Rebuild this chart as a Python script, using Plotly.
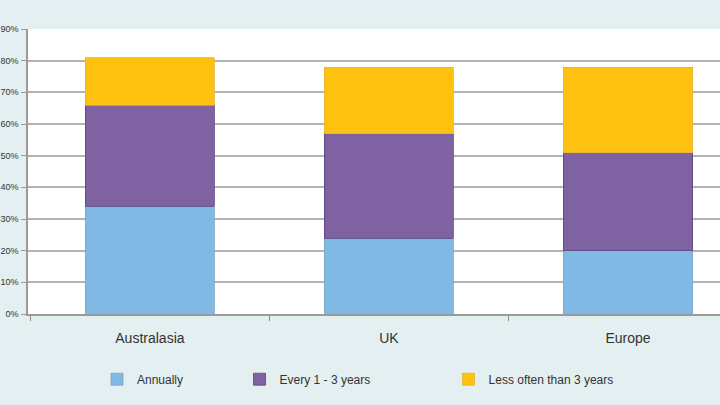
import plotly.graph_objects as go

categories = ["Australasia", "UK", "Europe"]
series_names = ["Annually", "Every 1 - 3 years", "Less often than 3 years"]
annually = [34, 24, 20]
between_1_3 = [32, 33, 31]
over_3 = [15, 21, 27]
y_ticks = [0, 10, 20, 30, 40, 50, 60, 70, 80, 90]
y_tick_labels = [f"{v}%" for v in y_ticks]

colors = ["#80b9e3", "#7f62a1", "#ffc10f"]
edge = ["#7aa6c8", "#5a4780", "#e6b33a"]
legend_ids = ["legend", "legend2", "legend3"]
legend_x = [0.0997, 0.3057, 0.6077]

fig = go.Figure()
for name, vals, c, e, lg in zip(series_names, [annually, between_1_3, over_3], colors, edge, legend_ids):
    fig.add_trace(go.Bar(
        x=categories, y=vals, name=name, width=0.54, legend=lg,
        marker=dict(color=c, line=dict(color=e, width=0.8)),
    ))

legend_style = dict(
    orientation="h", xanchor="left", y=-0.178, yanchor="top",
    font=dict(size=12, color="#333333"), bgcolor="rgba(0,0,0,0)",
)
fig.update_layout(
    barmode="stack",
    width=720, height=405,
    paper_bgcolor="#e4eff1",
    plot_bgcolor="#ffffff",
    margin=dict(l=28, r=0, t=29, b=91),
    font=dict(family="Arial, Liberation Sans, sans-serif", color="#333333", size=12),
    showlegend=True,
    legend=dict(x=legend_x[0], **legend_style),
    legend2=dict(x=legend_x[1], **legend_style),
    legend3=dict(x=legend_x[2], **legend_style),
)
fig.update_xaxes(
    range=[-0.51, 2.385], showline=True, linecolor="#9a9a9a", linewidth=1.5,
    ticks="outside", tickson="boundaries", ticklen=5, tickcolor="#8a8a8a",
    showgrid=False, ticklabelstandoff=10, tickfont=dict(size=14, color="#333333"),
)
fig.update_yaxes(
    range=[0, 90], tickvals=y_ticks, ticktext=y_tick_labels, automargin=False,
    showline=True, linecolor="#9a9a9a", linewidth=1.5,
    ticks="outside", ticklen=5, tickcolor="#9a9a9a",
    gridcolor="#b4b4b4", gridwidth=1.5, zeroline=False,
    ticklabelstandoff=1, tickfont=dict(size=9, color="#333333"),
)

fig.write_html(
    "out.html",
    config={"displayModeBar": False},
    post_script="document.body.style.margin='0';document.body.style.padding='0';",
)
